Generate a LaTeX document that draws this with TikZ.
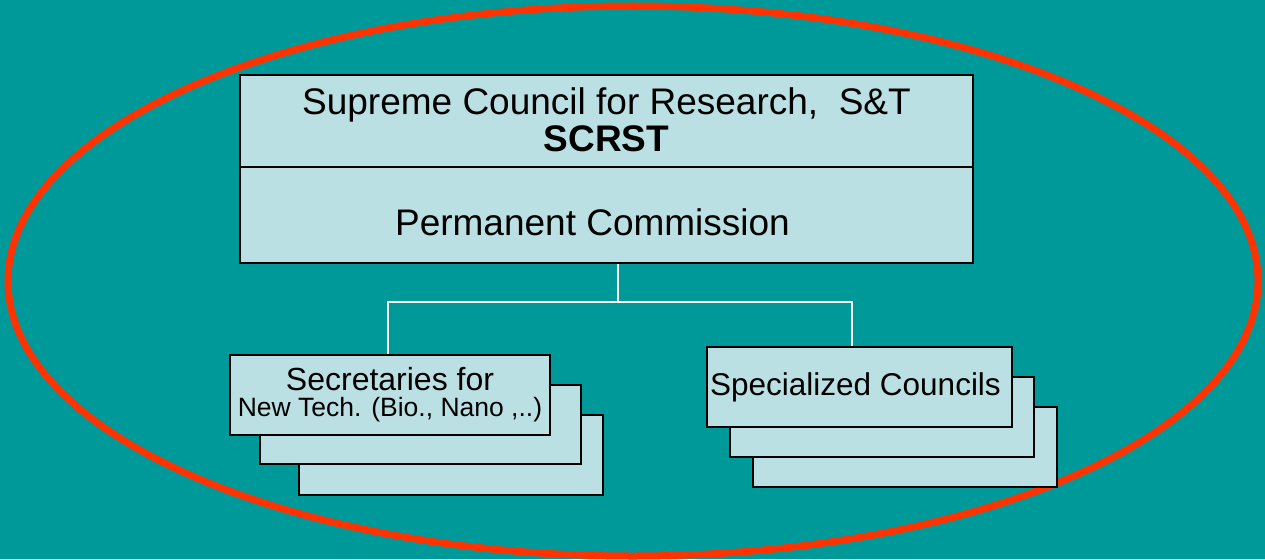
\documentclass[tikz,border=0pt]{standalone}
\usepackage{fontspec}
\setmainfont{Liberation Sans}
\definecolor{seabg}{HTML}{009999}
\definecolor{cardfill}{HTML}{BBE0E3}
\definecolor{ringred}{HTML}{FF3300}

\begin{document}
\begin{tikzpicture}[x=1pt,y=-1pt,
    card/.style={draw=black,line width=1.6pt,fill=cardfill,inner sep=0pt,align=center},
    link/.style={draw=white,line width=1.6pt}]
\useasboundingbox (0,0) rectangle (1265,559);
\fill[seabg] (0,0) rectangle (1265,559);
\draw[ringred,line width=7pt] (633,281) ellipse [x radius=625pt,y radius=275pt];
% council on top, commission below
\node[card,minimum width=733pt,minimum height=92pt,text depth=2pt,font=\fontsize{37}{37}\selectfont] (council) at (606.5,121)
  {Supreme Council for Research,~ S\&T\\\textbf{SCRST}};
\node[card,minimum width=733pt,minimum height=96pt,text height=41pt,font=\fontsize{37}{37}\selectfont] (commission) at (606.5,215)
  {Permanent Commission\kern28pt};
% secretaries stack
\node[card,minimum width=304pt,minimum height=80pt] (secr3) at (451,455) {};
\node[card,minimum width=321pt,minimum height=79pt] (secr2) at (420.5,424.5) {};
\node[card,minimum width=320pt,minimum height=80pt,font=\fontsize{32}{26}\selectfont] (secr) at (390,395)
  {Secretaries for\\{\fontsize{26.5}{26}\selectfont New Tech. (Bio., Nano ,..)}};
% councils stack
\node[card,minimum width=304pt,minimum height=80pt] (spec3) at (905,447) {};
\node[card,minimum width=304pt,minimum height=80pt] (spec2) at (882,417) {};
\node[card,minimum width=305pt,minimum height=80pt,font=\fontsize{31.5}{32}\selectfont] (spec) at (859.5,387)
  {Specialized Councils\kern8pt};
% connectors
\coordinate (hub) at (618,302);
\draw[link] (commission.south -| hub) -- (hub);
\draw[link] (hub) -| ([xshift=-2pt]secr.north);
\draw[link] (hub) -| ([xshift=-7.5pt]spec.north);
\end{tikzpicture}
\end{document}
